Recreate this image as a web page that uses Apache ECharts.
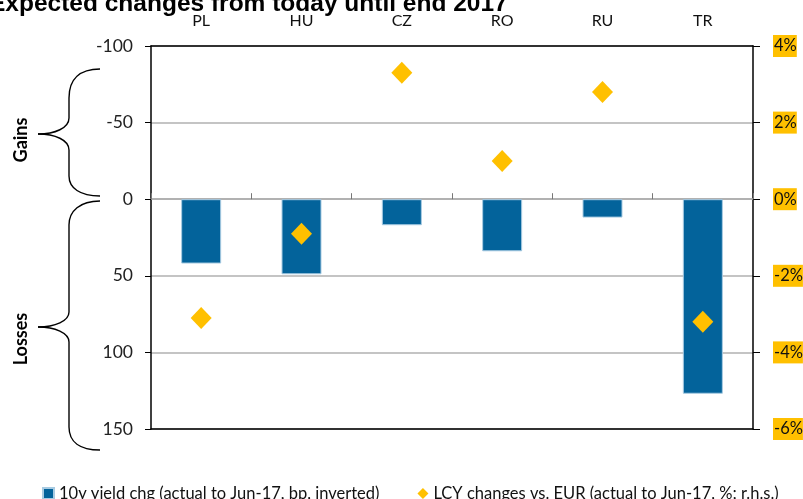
<!DOCTYPE html>
<html><head><meta charset="utf-8">
<script src="https://cdn.jsdelivr.net/npm/echarts@6/dist/echarts.min.js"></script>
<style>html,body{margin:0;padding:0;background:#fff}#c{width:803px;height:499px}</style>
</head><body><div id="c"></div>
<script>
const categories = ['PL', 'HU', 'CZ', 'RO', 'RU', 'TR'];
const yieldChg = [42, 49, 17, 34, 12, 127];
const lcyChg = [-3.1, -0.9, 3.3, 1.0, 2.8, -3.2];
const leftTicks = { min: -100, max: 150, interval: 50 };
const rightTicks = { min: -6, max: 4, interval: 2 };
const seriesNames = ['10y yield chg (actual to Jun-17, bp, inverted)', 'LCY changes vs. EUR (actual to Jun-17, %; r.h.s.)'];
const titleText = 'Expected changes from today until end 2017';

const FONT = 'Lato';
function brace(yTop, yTip, yBot, v1, v2, v3, v4) {
  const s = { fill: 'none', stroke: '#000', lineWidth: 1.4 };
  return [
    { type: 'bezierCurve', shape: { x1: 100, y1: yTop, x2: 69, y2: v1, cpx1: 80, cpy1: yTop, cpx2: 69, cpy2: yTop + 10 }, style: s },
    { type: 'line', shape: { x1: 69, y1: v1, x2: 69, y2: v2 }, style: s },
    { type: 'bezierCurve', shape: { x1: 69, y1: v2, x2: 38, y2: yTip, cpx1: 69, cpy1: yTip - 6, cpx2: 55, cpy2: yTip }, style: s },
    { type: 'bezierCurve', shape: { x1: 38, y1: yTip, x2: 69, y2: v3, cpx1: 55, cpy1: yTip, cpx2: 69, cpy2: yTip + 6 }, style: s },
    { type: 'line', shape: { x1: 69, y1: v3, x2: 69, y2: v4 }, style: s },
    { type: 'bezierCurve', shape: { x1: 69, y1: v4, x2: 100, y2: yBot, cpx1: 69, cpy1: yBot - 8, cpx2: 80, cpy2: yBot }, style: s }
  ];
}
const chart = echarts.init(document.getElementById('c'), null, { renderer: 'canvas' });
chart.setOption({
  animation: false,
  textStyle: { fontFamily: FONT },
  title: { text: titleText, left: -16, top: -13, textStyle: { fontFamily: 'Liberation Sans', fontWeight: 'bold', fontSize: 24.5, color: '#000' } },
  grid: { left: 151, right: 50, top: 46, bottom: 70, containLabel: false, outerBoundsMode: 'none' },
  legend: {
    left: 37, top: 480, itemWidth: 11, itemHeight: 11, itemGap: 38,
    textStyle: { fontFamily: FONT, fontSize: 16.5, color: '#111' },
    data: [{ name: seriesNames[0], icon: 'rect' }, { name: seriesNames[1], icon: 'diamond' }]
  },
  xAxis: [
    { type: 'category', data: categories, position: 'top',
      axisLine: { onZero: false, lineStyle: { color: '#000', width: 1.5 } },
      axisTick: { show: false },
      axisLabel: { fontSize: 16, color: '#111', margin: 17, fontFamily: FONT } },
    { type: 'category', data: categories, position: 'bottom',
      axisLine: { onZero: false, lineStyle: { color: '#000', width: 1.5 } },
      axisTick: { show: false }, axisLabel: { show: false } },
    { type: 'category', data: categories, position: 'bottom',
      axisLine: { onZero: true, onZeroAxisIndex: 0, lineStyle: { color: '#aaa', width: 1.5 } },
      axisTick: { show: true, inside: true, length: 6, lineStyle: { color: '#777' } },
      axisLabel: { show: false } }
  ],
  yAxis: [
    { type: 'value', inverse: true, min: leftTicks.min, max: leftTicks.max, interval: leftTicks.interval,
      position: 'left',
      axisLine: { show: true, lineStyle: { color: '#000', width: 1.5 } },
      axisTick: { show: true, length: 6, lineStyle: { color: '#000' } },
      axisLabel: { fontSize: 17.5, color: '#222', margin: 18, fontFamily: FONT },
      splitLine: { show: true, lineStyle: { color: '#b0b0b0', width: 1.5 } } },
    { type: 'value', min: rightTicks.min, max: rightTicks.max, interval: rightTicks.interval,
      position: 'right',
      axisLine: { show: true, lineStyle: { color: '#000', width: 1.5 } },
      axisTick: { show: true, length: 7, lineStyle: { color: '#000' } },
      axisLabel: { fontSize: 16.5, color: '#111', margin: 20, fontFamily: FONT, formatter: '{value}%',
        backgroundColor: '#FFC000', padding: [3, 0, 2, 1] },
      splitLine: { show: false } }
  ],
  series: [
    { name: seriesNames[0], type: 'bar', data: yieldChg, xAxisIndex: 0, yAxisIndex: 0, barWidth: 40,
      itemStyle: { color: '#03639B', borderColor: '#a8cbe2', borderWidth: 1 } },
    { name: seriesNames[1], type: 'scatter', data: lcyChg, xAxisIndex: 0, yAxisIndex: 1,
      symbol: 'diamond', symbolSize: [21, 22], itemStyle: { color: '#FFC000', opacity: 1 } }
  ],
  graphic: [
    ...brace(69, 134, 196, 98, 118, 150, 176),
    ...brace(201, 327, 450, 225, 312, 342, 427),
    { type: 'text', x: 21, y: 140, rotation: Math.PI / 2,
      style: { text: 'Gains', fontFamily: FONT, fontWeight: 'bold', fontSize: 18, fill: '#000', align: 'center', verticalAlign: 'middle' } },
    { type: 'text', x: 21, y: 339, rotation: Math.PI / 2,
      style: { text: 'Losses', fontFamily: FONT, fontWeight: 'bold', fontSize: 18, fill: '#000', align: 'center', verticalAlign: 'middle' } }
  ]
});
</script></body></html>
